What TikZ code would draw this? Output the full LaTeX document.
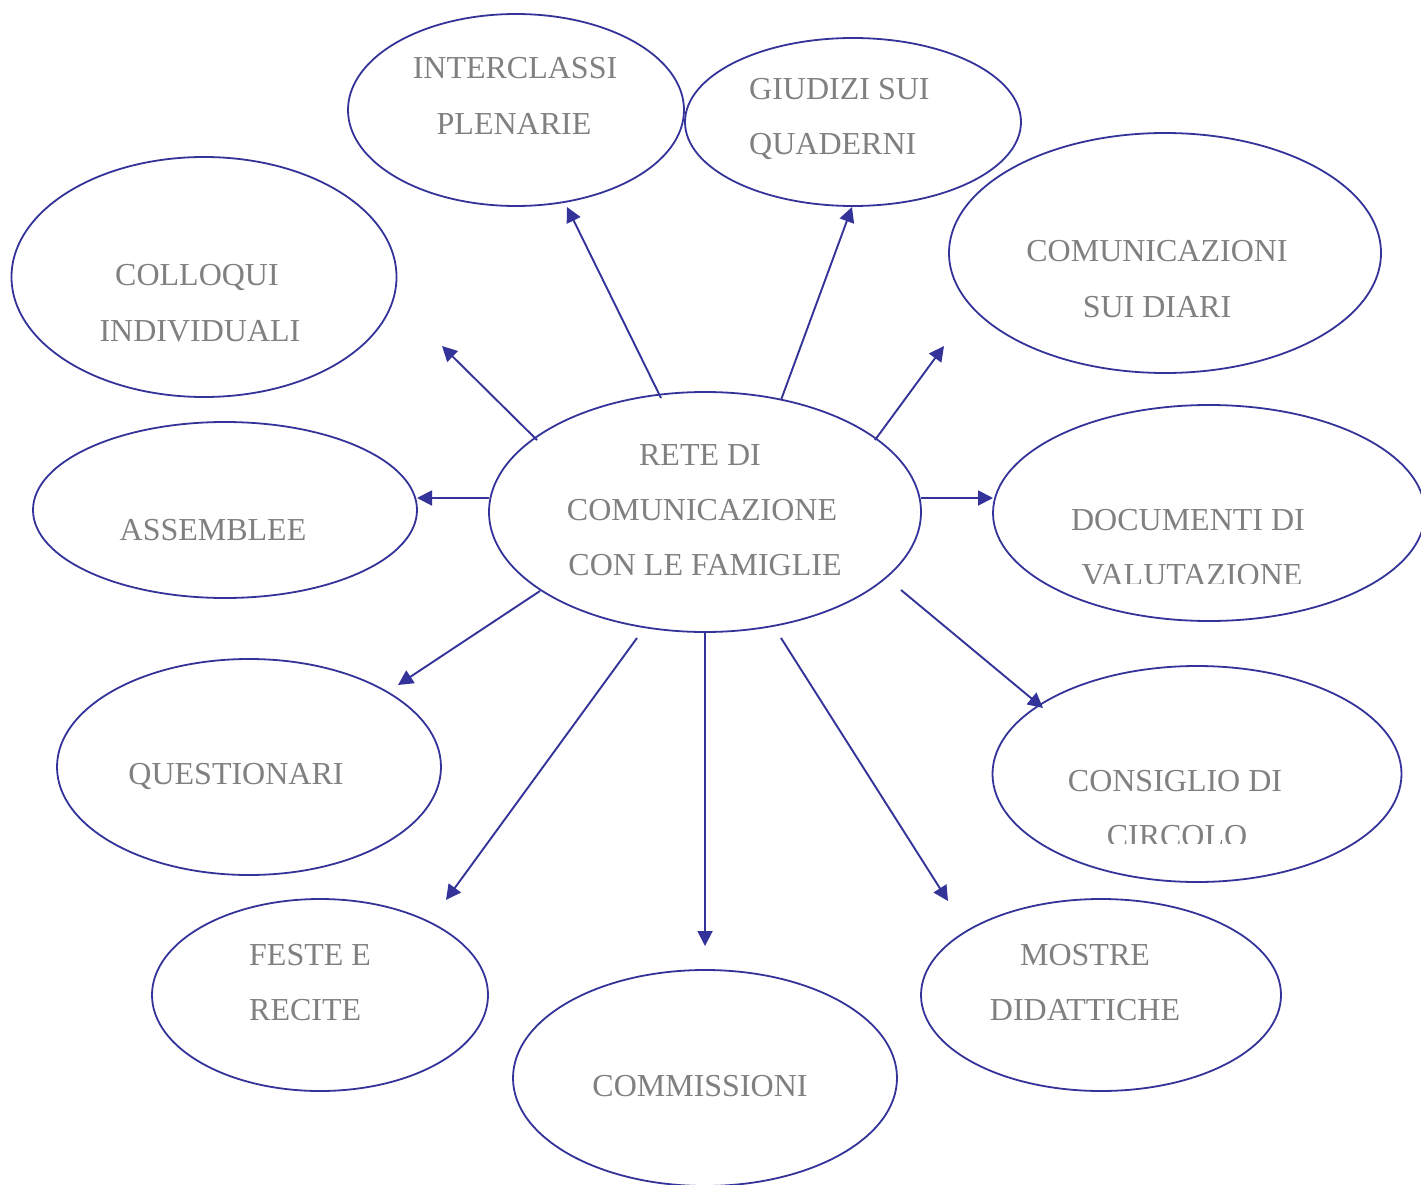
\documentclass[tikz,border=0pt]{standalone}
\usepackage{fontspec}
\setmainfont{Liberation Serif}
\usetikzlibrary{shapes.geometric,arrows.meta}
\definecolor{edge}{RGB}{51,51,153}
\definecolor{txt}{RGB}{128,128,128}
\begin{document}
\begin{tikzpicture}[x=1pt,y=-1pt,
  bubble/.style={ellipse,draw=edge,line width=1.8pt,inner sep=0pt},
  lbl/.style={text=txt,font=\fontsize{32}{55}\selectfont,inner sep=0pt,anchor=base},
  lbll/.style={lbl,anchor=base west},
  link/.style={draw=edge,line width=1.9pt,-{Triangle[length=15pt,width=15pt]}}]
\clip (0,0) rectangle (1421,1185);
\fill[white] (0,0) rectangle (1421,1185);
% ellipses
\node[bubble,minimum width=432pt,minimum height=240pt] (c) at (705,512) {};
\node[bubble,minimum width=336pt,minimum height=192pt] (inter) at (516,110) {};
\node[bubble,minimum width=336pt,minimum height=168pt] (giud) at (853,122) {};
\node[bubble,minimum width=432pt,minimum height=240pt] (diari) at (1165,253) {};
\node[bubble,minimum width=385pt,minimum height=240pt] (coll) at (204,277) {};
\node[bubble,minimum width=384pt,minimum height=176pt] (ass) at (225,510) {};
\node[bubble,minimum width=432pt,minimum height=216pt] (doc) at (1209,513) {};
\node[bubble,minimum width=384pt,minimum height=216pt] (quest) at (249,767) {};
\node[bubble,minimum width=409pt,minimum height=216pt] (cons) at (1197,774) {};
\node[bubble,minimum width=336pt,minimum height=192pt] (feste) at (320,995) {};
\node[bubble,minimum width=384pt,minimum height=216pt] (comm) at (705,1078) {};
\node[bubble,minimum width=360pt,minimum height=192pt] (mostre) at (1101,995) {};
% labels
\node[lbl] (c1) at (700,465) {RETE DI};
\node[lbl] (c2) at (702,520) {COMUNICAZIONE};
\node[lbl] (c3) at (705,575) {CON LE FAMIGLIE};
\node[lbl] (i1) at (515,79) {INTERCLASSI};
\node[lbl] (i2) at (514,135) {PLENARIE};
\node[lbll] (g1) at (749,100) {GIUDIZI SUI};
\node[lbll] (g2) at (749,155) {QUADERNI};
\node[lbl] (d1) at (1157,261) {COMUNICAZIONI};
\node[lbl] (d2) at (1157,317) {SUI DIARI};
\node[lbl] (k1) at (197,285) {COLLOQUI};
\node[lbl] (k2) at (200,341) {INDIVIDUALI};
\node[lbl] (a1) at (213,540) {ASSEMBLEE};
\node[lbl] (v1) at (1188,530) {DOCUMENTI DI};
\begin{scope}
\clip (1000,550) rectangle (1400,583);
\node[lbl] (v2) at (1192,585) {VALUTAZIONE};
\end{scope}
\node[lbl] (q1) at (236,784) {QUESTIONARI};
\node[lbl] (s1) at (1175,791) {CONSIGLIO DI};
\begin{scope}
\clip (1000,810) rectangle (1400,843);
\node[lbl] (s2) at (1177,846) {CIRCOLO};
\end{scope}
\node[lbll] (f1) at (249,965) {FESTE E};
\node[lbll] (f2) at (249,1020) {RECITE};
\node[lbl] (m1) at (700,1096) {COMMISSIONI};
\node[lbl] (o1) at (1085,965) {MOSTRE};
\node[lbl] (o2) at (1085,1020) {DIDATTICHE};
% connector end points
\coordinate (s-inter) at (661,398);  \coordinate (e-inter) at (567,207);
\coordinate (s-giud) at (781,400);   \coordinate (e-giud) at (852,207);
\coordinate (s-diari) at (875,440);  \coordinate (e-diari) at (944,346);
\coordinate (s-coll) at (537,440);   \coordinate (e-coll) at (442,346);
\coordinate (s-ass) at (489,498);    \coordinate (e-ass) at (417,498);
\coordinate (s-doc) at (921,498);    \coordinate (e-doc) at (993,498);
\coordinate (s-quest) at (540,591);  \coordinate (e-quest) at (398,685);
\coordinate (s-cons) at (901,590);   \coordinate (e-cons) at (1043,708);
\coordinate (s-feste) at (637,638);  \coordinate (e-feste) at (446,900);
\coordinate (s-comm) at (705,633);   \coordinate (e-comm) at (705,946);
\coordinate (s-mostre) at (781,638); \coordinate (e-mostre) at (948,901);
\foreach \n in {inter,giud,diari,coll,ass,doc,quest,cons,feste,comm,mostre}
  \draw[link] (s-\n) -- (e-\n);
\end{tikzpicture}
\end{document}
